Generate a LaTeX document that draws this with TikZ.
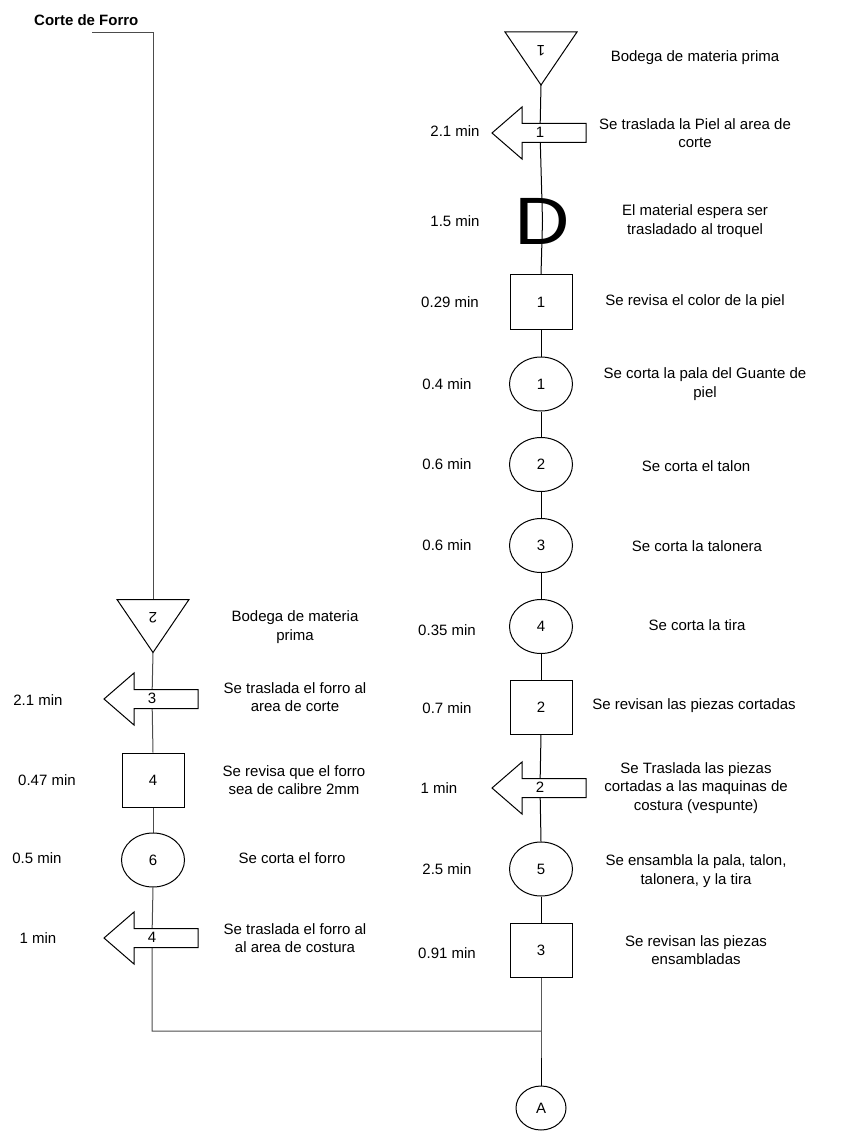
\documentclass[tikz,border=0pt]{standalone}
\usepackage{fontspec}
\setmainfont{Liberation Sans}
\usetikzlibrary{shapes.geometric,backgrounds}

\tikzset{
  shape line/.style={draw=black, line width=1pt, fill=white},
  num/.style={inner sep=0pt},
  inspect/.style={shape line, rectangle, minimum width=62pt, minimum height=54pt, inner sep=0pt},
  operation/.style={shape line, ellipse, minimum width=63pt, minimum height=54pt, inner sep=0pt},
  connector/.style={shape line, ellipse, minimum width=50pt, minimum height=44pt, inner sep=0pt},
  delay/.style={inner sep=0pt, xscale=1.15, font=\fontsize{67}{67}\selectfont},
  desc/.style={align=center, inner sep=0pt},
  timelbl/.style={inner sep=0pt},
  flow/.style={line width=1pt, draw=black},
  flowleft/.style={line width=1pt, draw=black!70},
  % storage triangle pointing down, number printed upside down
  store/.pic={
    \draw[shape line] (-36,-26.5) -- (36,-26.5) -- (0,26.5) -- cycle;
    \node[num, rotate=180] (-n) at (0,-8) {#1};
    \coordinate (-top) at (0,-26.5);
    \coordinate (-tip) at (0,26.5);
  },
  % transport arrow pointing left
  transport/.pic={
    \draw[shape line] (-49,0) -- (-19,-26) -- (-19,-9.5) -- (45,-9.5) -- (45,9.5)
      -- (-19,9.5) -- (-19,26) -- cycle;
    \node[num] (-n) at (-1,-1) {#1};
  },
}

\begin{document}
\begin{tikzpicture}[x=1pt, y=-1pt, every node/.style={font=\fontsize{15}{18.5}\selectfont}]
\useasboundingbox (0,0) rectangle (851,1131);

% ---------------- main line: leather ----------------
\pic (t1) at (541,58.5) {store=1};
\node[desc] (ds1) at (695,58) {Bodega de materia prima};

\pic (a1) at (541,133) {transport=1};
\node[timelbl] (tm1) at (455,131) {2.1 min};
\node[desc] (ds2) at (695,133) {Se traslada la Piel al area de\\corte};

\node[delay] (d1) at (542.5,221) {D};
\node[timelbl] (tm2) at (455,221) {1.5 min};
\node[desc] (ds3) at (695,221) {El material espera ser\\trasladado al troquel};

\node[inspect] (b1) at (541,302) {1};
\node[timelbl] (tm3) at (450,302) {0.29 min};
\node[desc] (ds4) at (695,302) {Se revisa el color de la piel};

\node[operation] (c1) at (541,384) {1};
\node[timelbl] (tm4) at (447,384) {0.4 min};
\node[desc] (ds5) at (705,384) {Se corta la pala del Guante de\\piel};

\node[operation] (c2) at (541,464.5) {2};
\node[timelbl] (tm5) at (447,464) {0.6 min};
\node[desc] (ds6) at (696,466) {Se corta el talon};

\node[operation] (c3) at (541,545.5) {3};
\node[timelbl] (tm6) at (447,545) {0.6 min};
\node[desc] (ds7) at (697,546) {Se corta la talonera};

\node[operation] (c4) at (541,626.5) {4};
\node[timelbl] (tm7) at (447,630) {0.35 min};
\node[desc] (ds8) at (697,625) {Se corta la tira};

\node[inspect] (b2) at (541,707) {2};
\node[timelbl] (tm8) at (447,708) {0.7 min};
\node[desc] (ds9) at (694,706) {Se revisan las piezas cortadas};

\pic (a2) at (541,788) {transport=2};
\node[timelbl] (tm9) at (439,788) {1 min};
\node[desc] (ds10) at (696,788) {Se Traslada las piezas\\cortadas a las maquinas de\\costura (vespunte)};

\node[operation] (c5) at (541,869) {5};
\node[timelbl] (tm10) at (447,869) {2.5 min};
\node[desc] (ds11) at (696,871) {Se ensambla la pala, talon,\\talonera, y la tira};

\node[inspect] (b3) at (541,950) {3};
\node[timelbl] (tm11) at (447,953) {0.91 min};
\node[desc] (ds12) at (696,950) {Se revisan las piezas\\ensambladas};

\coordinate (join) at (541,1031);
\node[connector] (A) at (541,1108) {A};

% ---------------- side line: lining ----------------
\node[font=\bfseries\fontsize{15}{18}\selectfont, anchor=west, inner sep=0pt] (title) at (34,20) {Corte de Forro};
\coordinate (start) at (92,33);

\pic (t2) at (153,626) {store=2};
\node[desc] (ds13) at (295,627) {Bodega de materia\\prima};

\pic (a3) at (153,699) {transport=3};
\node[timelbl] (tm12) at (38,700) {2.1 min};
\node[desc] (ds14) at (295,697) {Se traslada el forro al\\area de corte};

\node[inspect] (b4) at (153,780) {4};
\node[timelbl] (tm13) at (47,780) {0.47 min};
\node[desc] (ds15) at (294,780) {Se revisa que el forro\\sea de calibre 2mm};

\node[operation] (c6) at (153,860) {6};
\node[timelbl] (tm14) at (37,858) {0.5 min};
\node[desc] (ds16) at (292,858) {Se corta el forro};

\pic (a4) at (153,938) {transport=4};
\node[timelbl] (tm15) at (38,938) {1 min};
\node[desc] (ds17) at (295,938) {Se traslada el forro al\\al area de costura};

% ---------------- connecting lines, behind the symbols ----------------
\begin{pgfonlayer}{background}
  \draw[flow] (t1-tip) -- (a1-n.center) -- (d1.center) -- (b1.north);
  \draw[flow] (b1.south) -- (c1.north);
  \draw[flow] (c1.south) -- (c2.north);
  \draw[flow] (c2.south) -- (c3.north);
  \draw[flow] (c3.south) -- (c4.north);
  \draw[flow] (c4.south) -- (b2.north);
  \draw[flow] (b2.south) -- (a2-n.center) -- (c5.north);
  \draw[flow] (c5.south) -- (b3.north);
  \draw[flow] (b3.south) -- (join) -- (A.north);

  \draw[flowleft] (start) -| (t2-top);
  \draw[flowleft] (t2-tip) -- (a3-n.center) -- (b4.north);
  \draw[flowleft] (b4.south) -- (c6.north);
  \draw[flowleft] (c6.south) -- (a4-n.center) |- (join);
\end{pgfonlayer}
\end{tikzpicture}
\end{document}
